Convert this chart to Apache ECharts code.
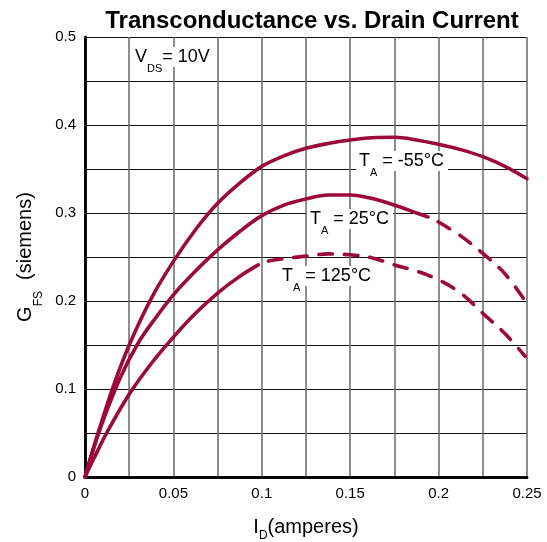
<!DOCTYPE html>
<html><head><meta charset="utf-8">
<script src="https://cdn.jsdelivr.net/npm/echarts@6/dist/echarts.min.js"></script>
<style>html,body{margin:0;padding:0;background:#fff}#c{width:547px;height:542px}</style>
</head><body><div id="c"></div>
<script>
// Data (I_D in amperes, G_FS in siemens)
const id_m55 = [0, 0.004, 0.0085, 0.016, 0.025, 0.0375, 0.05, 0.0625, 0.075, 0.0875, 0.1, 0.1125, 0.125, 0.1375, 0.15, 0.1625, 0.175, 0.1875, 0.2, 0.2125, 0.225, 0.2375, 0.25];
const gfs_m55 = [0, 0.028, 0.057, 0.103, 0.150, 0.203, 0.245, 0.281, 0.311, 0.334, 0.353, 0.365, 0.3735, 0.379, 0.383, 0.3855, 0.386, 0.383, 0.378, 0.372, 0.364, 0.353, 0.339];

const id_25_solid = [0, 0.005, 0.0104, 0.02, 0.03, 0.04, 0.05, 0.0625, 0.075, 0.0875, 0.1, 0.1125, 0.125, 0.1375, 0.15, 0.1625, 0.175, 0.1875, 0.194];
const gfs_25_solid = [0, 0.033, 0.065, 0.113, 0.152, 0.181, 0.207, 0.234, 0.258, 0.279, 0.297, 0.309, 0.316, 0.3205, 0.3205, 0.3165, 0.309, 0.300, 0.2955];
const id_25_dash = [0.1997, 0.2125, 0.225, 0.2375, 0.25];
const gfs_25_dash = [0.290, 0.274, 0.254, 0.231, 0.197];

const id_125_solid = [0, 0.005, 0.0125, 0.025, 0.0375, 0.05, 0.0625, 0.075, 0.0875, 0.098];
const gfs_125_solid = [0, 0.021, 0.051, 0.094, 0.129, 0.159, 0.186, 0.209, 0.228, 0.241];
const id_125_dash = [0.1037, 0.1125, 0.125, 0.1375, 0.15, 0.1625, 0.175, 0.1875, 0.2, 0.2125, 0.225, 0.2375, 0.249];
const gfs_125_dash = [0.2455, 0.248, 0.251, 0.2535, 0.2525, 0.249, 0.241, 0.234, 0.224, 0.209, 0.186, 0.163, 0.137];

const xTickLabels = ['0', '0.05', '0.1', '0.15', '0.2', '0.25'];
const yTickLabels = ['0', '0.1', '0.2', '0.3', '0.4', '0.5'];

const pairs = (xs, ys) => xs.map((x, i) => [x, ys[i]]);
const RED = '#9b0a3a';
const FONT = '"Liberation Sans", Arial, Helvetica, sans-serif';

function fmtTick(labels, v, step) {
  const k = Math.round(v / step);
  if (Math.abs(v / step - k) < 1e-6 && k < labels.length) return labels[k];
  return '';
}

const chart = echarts.init(document.getElementById('c'), null, {renderer: 'canvas'});
const lineBase = {type: 'line', smooth: 0.35, symbol: 'none', xAxisIndex: 0, yAxisIndex: 0, z: 5};
const solid = {color: RED, width: 3.6, cap: 'round', join: 'round'};
const dashed = {color: RED, width: 3.6, type: [13.5, 12], cap: 'round', join: 'round'};

const xNameRich = {
  m: {fontFamily: FONT, fontSize: 20, color: '#000'},
  s: {fontFamily: FONT, fontSize: 12, color: '#000', verticalAlign: 'bottom', padding: [0, 0, -5, 0]}
};
const yNameRich = {
  m: {fontFamily: FONT, fontSize: 20, color: '#000'},
  s: {fontFamily: FONT, fontSize: 12, color: '#000', verticalAlign: 'bottom', padding: [0, 0, -9, 0]}
};

const option = {
  animation: false,
  backgroundColor: '#fff',
  title: {
    text: 'Transconductance vs. Drain Current',
    left: 307, top: 4, textAlign: 'center',
    textStyle: {fontFamily: FONT, fontWeight: 'bold', fontSize: 24, color: '#000'}
  },
  grid: {left: 85, right: 20, top: 37, bottom: 65, containLabel: false, outerBoundsMode: 'none'},
  xAxis: [{
    type: 'value', min: 0, max: 0.25, interval: 0.025,
    name: '{m|I}{s|D}{m|(amperes)}', nameLocation: 'middle', nameGap: 40,
    nameTextStyle: {rich: xNameRich},
    axisLine: {show: true, lineStyle: {color: '#000', width: 2.5}},
    axisTick: {show: false},
    axisLabel: {margin: 9, fontFamily: FONT, fontSize: 15, color: '#000',
      formatter: v => fmtTick(xTickLabels, v, 0.05)},
    splitLine: {show: true, lineStyle: {color: '#6a6a6a', width: 1.5}}
  }, {
    type: 'value', min: 0, max: 0.25, position: 'top',
    axisLine: {show: true, lineStyle: {color: '#000', width: 2.5}},
    axisTick: {show: false}, axisLabel: {show: false}, splitLine: {show: false}
  }],
  yAxis: [{
    type: 'value', min: 0, max: 0.5, interval: 0.05,
    name: '{m|G}{s|FS}{m|  (siemens)}', nameLocation: 'middle', nameGap: 49, nameRotate: 90,
    nameTextStyle: {rich: yNameRich},
    axisLine: {show: true, lineStyle: {color: '#000', width: 2.5}},
    axisTick: {show: false},
    axisLabel: {margin: 9, fontFamily: FONT, fontSize: 15, color: '#000',
      formatter: v => fmtTick(yTickLabels, v, 0.1)},
    splitLine: {show: true, lineStyle: {color: '#111', width: 1.2}}
  }, {
    type: 'value', min: 0, max: 0.5, position: 'right',
    axisLine: {show: true, lineStyle: {color: '#000', width: 2.5}},
    axisTick: {show: false}, axisLabel: {show: false}, splitLine: {show: false}
  }],
  series: [
    Object.assign({}, lineBase, {name: '-55', data: pairs(id_m55, gfs_m55), lineStyle: solid}),
    Object.assign({}, lineBase, {name: '25s', data: pairs(id_25_solid, gfs_25_solid), lineStyle: solid}),
    Object.assign({}, lineBase, {name: '25d', data: pairs(id_25_dash, gfs_25_dash), lineStyle: dashed}),
    Object.assign({}, lineBase, {name: '125s', data: pairs(id_125_solid, gfs_125_solid), lineStyle: solid}),
    Object.assign({}, lineBase, {name: '125d', data: pairs(id_125_dash, gfs_125_dash), lineStyle: dashed})
  ]
};
chart.setOption(option);

function subLabel(main, sub, rest, x, y) {
  return {
    type: 'text', left: x, top: y, z: 20,
    style: {
      text: '{m|' + main + '}{s|' + sub + '}{m|' + rest + '}',
      backgroundColor: '#fff', padding: [1, 4, 1, 3],
      rich: {
        m: {fontFamily: FONT, fontSize: 18, fill: '#000', color: '#000'},
        s: {fontFamily: FONT, fontSize: 11, fill: '#000', color: '#000', verticalAlign: 'bottom', padding: [0, 0, -8, 0]}
      }
    }
  };
}
chart.setOption({
  graphic: [
    subLabel('V', 'DS', '= 10V', 132, 47),
    subLabel('T', 'A', ' = -55°C', 356, 151),
    subLabel('T', 'A', ' = 25°C', 307, 209),
    subLabel('T', 'A', ' = 125°C', 279, 266)
  ]
});
</script></body></html>
